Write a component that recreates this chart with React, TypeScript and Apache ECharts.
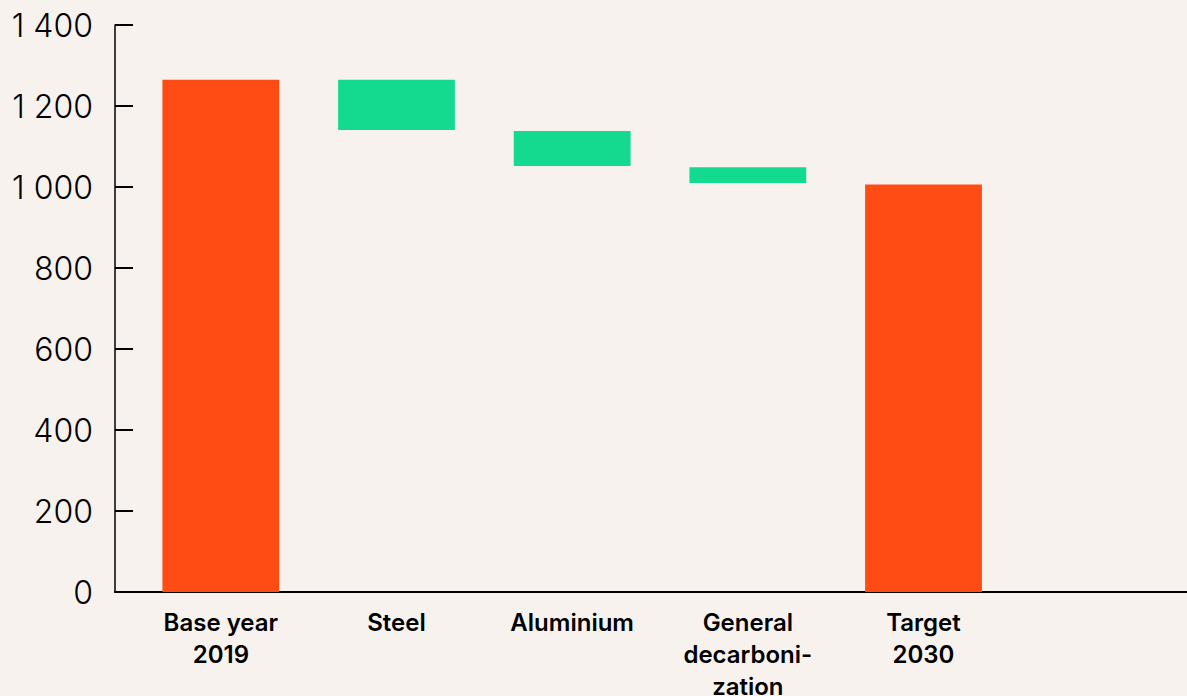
import React, { useEffect, useRef } from "react";
import * as echarts from "echarts";

const categories = ["Base year\n2019", "Steel", "Aluminium", "General\ndecarboni-\nzation", "Target\n2030", ""];
const totals = [1265, null, null, null, 1006, null];
const stepTops = [null, 1265, 1138, 1049, null, null];
const stepBottoms = [null, 1141, 1052, 1010, null, null];
const yTicks = [0, 200, 400, 600, 800, 1000, 1200, 1400];

const ORANGE = "#FF4B14";
const GREEN = "#14DA90";
const BG = "#F7F2EE";

export default function App() {
  const ref = useRef<HTMLDivElement>(null);
  useEffect(() => {
    if (!ref.current) return;
    const chart = echarts.init(ref.current, undefined, { renderer: "svg" });
    const deltas = stepTops.map((t, i) => (t == null || stepBottoms[i] == null ? null : t - (stepBottoms[i] as number)));
    const fmt = (v: number) => {
      const s = String(v);
      return s.length > 3 ? s.slice(0, s.length - 3) + " " + s.slice(-3) : s;
    };
    chart.setOption({
      animation: false,
      backgroundColor: BG,
      grid: [
        { left: 133, right: 0, top: 25, bottom: 104, outerBoundsMode: "none", containLabel: false },
        { left: 115, right: 0, top: 25, bottom: 104, outerBoundsMode: "none", containLabel: false },
      ],
      xAxis: [
        {
          type: "category",
          gridIndex: 0,
          data: categories,
          axisLine: { show: false },
          axisTick: { show: false },
          axisLabel: {
            interval: 0,
            color: "#000",
            fontFamily: "Inter",
            fontWeight: 600,
            fontSize: 24,
            lineHeight: 32,
            margin: 14,
            verticalAlign: "top",
          },
        },
        {
          type: "value",
          gridIndex: 1,
          min: 0,
          max: 1,
          axisLine: { show: true, lineStyle: { color: "#000", width: 2 } },
          axisTick: { show: false },
          axisLabel: { show: false },
          splitLine: { show: false },
        },
      ],
      yAxis: [
        {
          type: "value",
          gridIndex: 0,
          min: yTicks[0],
          max: yTicks[yTicks.length - 1],
          interval: 200,
          show: false,
          splitLine: { show: false },
        },
        {
          type: "value",
          gridIndex: 1,
          min: yTicks[0],
          max: yTicks[yTicks.length - 1],
          interval: 200,
          axisLine: { show: true, lineStyle: { color: "#000", width: 1.5 } },
          axisTick: { show: true, inside: true, length: 18, lineStyle: { color: "#000", width: 2 } },
          splitLine: { show: false },
          axisLabel: {
            color: "#000",
            fontFamily: "Inter",
            fontWeight: 300,
            fontSize: 32,
            margin: 22,
            formatter: fmt,
          },
        },
      ],
      series: [
        {
          type: "bar",
          xAxisIndex: 0,
          yAxisIndex: 0,
          stack: "w",
          data: stepBottoms,
          itemStyle: { color: "transparent" },
          barCategoryGap: "33.5%",
          silent: true,
        },
        {
          type: "bar",
          xAxisIndex: 0,
          yAxisIndex: 0,
          stack: "w",
          data: deltas,
          itemStyle: { color: GREEN },
          barCategoryGap: "33.5%",
        },
        {
          type: "bar",
          xAxisIndex: 0,
          yAxisIndex: 0,
          stack: "w",
          data: totals,
          itemStyle: { color: ORANGE },
          barCategoryGap: "33.5%",
        },
      ],
    });
    return () => chart.dispose();
  }, []);
  return (
    <div
      ref={ref}
      style={{ position: "fixed", left: 0, top: 0, width: 1187, height: 696, background: BG }}
    />
  );
}
